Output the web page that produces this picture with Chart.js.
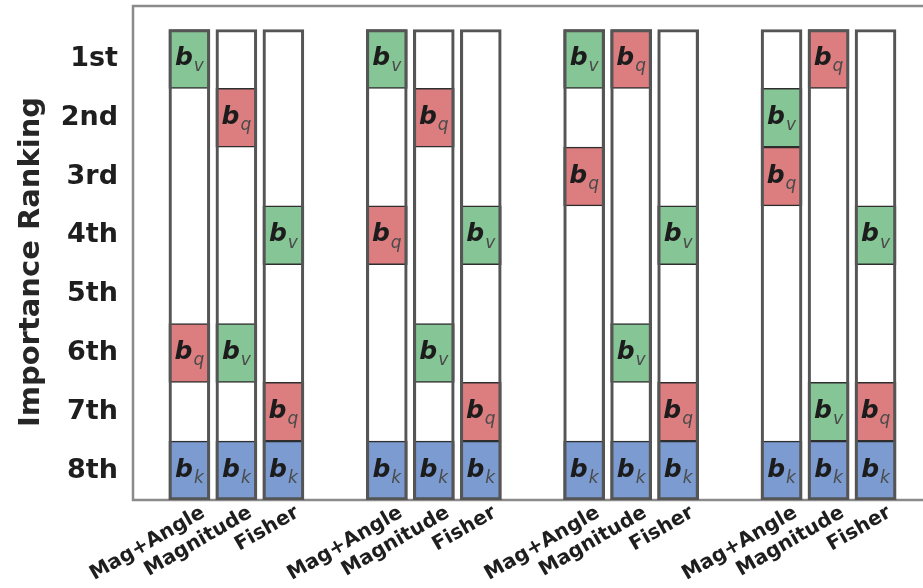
<!DOCTYPE html>
<html>
<head>
<meta charset="utf-8">
<script src="https://cdn.jsdelivr.net/npm/chart.js@4.4.1/dist/chart.umd.min.js"></script>
<style>
  html, body { margin: 0; padding: 0; background: #fff; overflow: hidden; }
  #wrap { position: relative; width: 923px; height: 588px; }
</style>
</head>
<body>
<div id="wrap"><canvas id="rankChart"></canvas></div>
<script>
// Methods compared inside every group
const methods = ['Mag+Angle', 'Magnitude', 'Fisher'];
const rankLabels = ['1st', '2nd', '3rd', '4th', '5th', '6th', '7th', '8th'];

// Importance rank of each parameter, one entry per column (4 groups x 3 methods)
const rankV = [1, 6, 4,  1, 6, 4,  1, 6, 4,  2, 7, 4];
const rankQ = [6, 2, 7,  4, 2, 7,  3, 1, 7,  3, 1, 7];
const rankK = [8, 8, 8,  8, 8, 8,  8, 8, 8,  8, 8, 8];

// Column centres on the x scale: 3 columns per group, groups spaced apart
const colX = rankV.map((_, i) => Math.floor(i / 3) * 4.2 + (i % 3));

const FONT = '"DejaVu Sans", sans-serif';

function cellSet(ranks, color, sub) {
  return {
    data: ranks.map((r, i) => ({ x: colX[i], y: [r - 0.5, r + 0.5] })),
    backgroundColor: color,
    borderColor: '#2e2e2e',
    borderWidth: 1.5,
    borderSkipped: false,
    barThickness: 41,
    grouped: false,
    order: 2,
    sub: sub
  };
}

// Draws the spines (left, top, bottom) like the axes frame
const frameLines = {
  id: 'frameLines',
  beforeDatasetsDraw(chart) {
    const { ctx, chartArea: a } = chart;
    ctx.save();
    ctx.strokeStyle = '#8a8a8a';
    ctx.lineWidth = 2.5;
    ctx.beginPath();
    ctx.moveTo(a.right + 5, a.top);
    ctx.lineTo(a.left, a.top);
    ctx.lineTo(a.left, a.bottom);
    ctx.lineTo(a.right + 5, a.bottom);
    ctx.stroke();
    ctx.restore();
  }
};

// Y axis title, placed a little below the axis middle as in the figure
const yTitle = {
  id: 'yTitle',
  afterDraw(chart) {
    const { ctx, chartArea: a } = chart;
    ctx.save();
    ctx.translate(31, (a.top + a.bottom) / 2 + 9);
    ctx.rotate(-Math.PI / 2);
    ctx.textAlign = 'center';
    ctx.textBaseline = 'middle';
    ctx.fillStyle = '#262626';
    ctx.font = 'bold 29px ' + FONT;
    ctx.fillText('Importance Ranking', 0, 0);
    ctx.restore();
  }
};

// Writes b_v / b_q / b_k inside each coloured cell
const cellText = {
  id: 'cellText',
  afterDatasetsDraw(chart) {
    const ctx = chart.ctx;
    chart.data.datasets.forEach((ds, di) => {
      if (!ds.sub) return;
      chart.getDatasetMeta(di).data.forEach(bar => {
        const cy = (bar.y + bar.base) / 2;
        ctx.save();
        ctx.textAlign = 'left';
        ctx.textBaseline = 'alphabetic';
        ctx.font = 'italic bold 25px ' + FONT;
        const bw = ctx.measureText('b').width;
        ctx.font = 'italic 17px ' + FONT;
        const sw = ctx.measureText(ds.sub).width;
        const x0 = bar.x - (bw + sw + 1) / 2;
        ctx.font = 'italic bold 25px ' + FONT;
        ctx.fillStyle = '#1c1c1c';
        ctx.fillText('b', x0, cy + 6);
        ctx.font = 'italic 17px ' + FONT;
        ctx.fillStyle = '#4a4a4a';
        ctx.fillText(ds.sub, x0 + bw + 1, cy + 12.5);
        ctx.restore();
      });
    });
  }
};

new Chart(document.getElementById('rankChart'), {
  type: 'bar',
  data: {
    datasets: [
      cellSet(rankV, '#86c596', 'v'),
      cellSet(rankQ, '#dc7e80', 'q'),
      cellSet(rankK, '#7b9bd1', 'k'),
      {
        // outline of every column, spanning all 8 ranks
        data: colX.map(x => ({ x: x, y: [0.5, 8.5] })),
        backgroundColor: 'rgba(0,0,0,0)',
        borderColor: '#555555',
        borderWidth: 2.5,
        borderSkipped: false,
        barThickness: 41,
        grouped: false,
        order: 1
      }
    ]
  },
  options: {
    responsive: true,
    maintainAspectRatio: false,
    animation: false,
    layout: { padding: { top: 6, left: 0, right: 0, bottom: 0 } },
    plugins: {
      legend: { display: false },
      tooltip: { enabled: false }
    },
    scales: {
      x: {
        type: 'linear',
        min: -1.2,
        max: 15.61,
        offset: false,
        grid: { display: false, drawTicks: false },
        border: { display: false },
        afterBuildTicks: s => { s.ticks = colX.map(v => ({ value: v })); },
        afterFit: s => { s.height = 88; s.paddingLeft = 0; s.paddingRight = 0; },
        ticks: {
          autoSkip: false,
          minRotation: 30,
          maxRotation: 30,
          padding: 1,
          labelOffset: 14,
          color: '#1e1e1e',
          font: { family: FONT, size: 20, weight: 'bold' },
          callback: (v, i) => methods[i % 3]
        }
      },
      y: {
        type: 'linear',
        reverse: true,
        min: 0.1,
        max: 8.5,
        grid: { display: false, drawTicks: false },
        border: { display: false },
        afterBuildTicks: s => { s.ticks = rankLabels.map((_, i) => ({ value: i + 1 })); },
        afterFit: s => { s.width = 133; s.paddingTop = 0; s.paddingBottom = 0; },
        ticks: {
          padding: 15,
          color: '#1e1e1e',
          font: { family: FONT, size: 27, weight: 'bold' },
          callback: (v, i) => rankLabels[i]
        }
      }
    }
  },
  plugins: [frameLines, cellText, yTitle]
});
</script>
</body>
</html>
